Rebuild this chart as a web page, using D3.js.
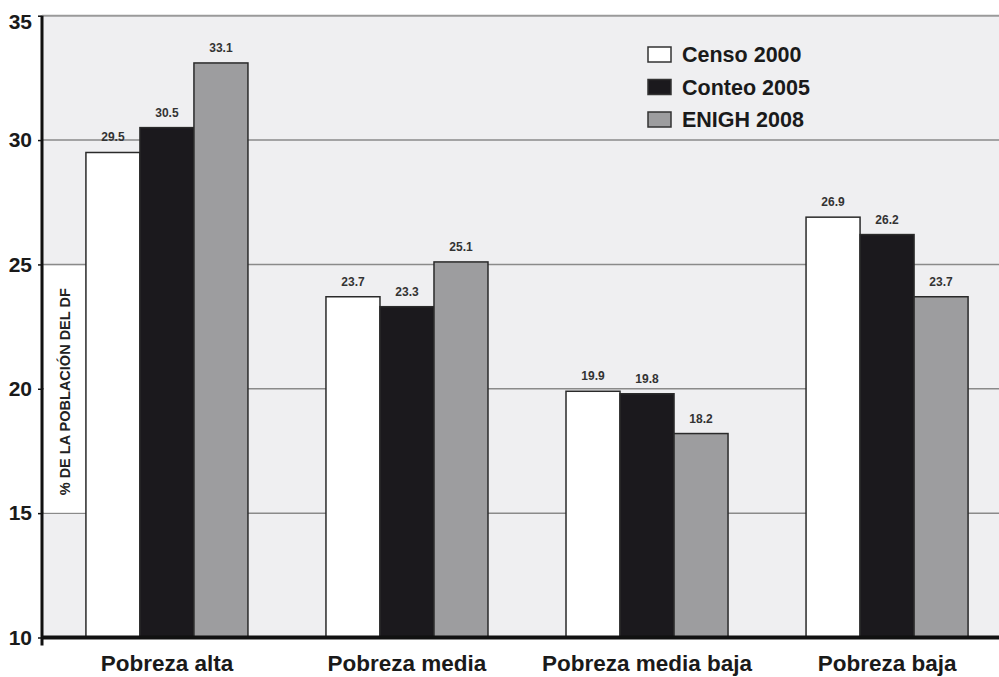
<!DOCTYPE html>
<html>
<head>
<meta charset="utf-8">
<script src="https://cdn.jsdelivr.net/npm/d3@7"></script>
<style>
  html, body { margin: 0; padding: 0; background: #fff; }
  svg { display: block; }
  text { font-family: "Liberation Sans", Arial, Helvetica, sans-serif; font-weight: bold; }
</style>
</head>
<body>
<svg id="chart" width="999" height="677"></svg>
<script>
// Poverty levels in the Distrito Federal, share of population (%)
const categories = ["Pobreza alta", "Pobreza media", "Pobreza media baja", "Pobreza baja"];
const seriesNames = ["Censo 2000", "Conteo 2005", "ENIGH 2008"];
const censo2000 = [29.5, 23.7, 19.9, 26.9];
const conteo2005 = [30.5, 23.3, 19.8, 26.2];
const enigh2008 = [33.1, 25.1, 18.2, 23.7];
const yTicks = [10, 15, 20, 25, 30, 35];
const yLabel = "% DE LA POBLACIÓN DEL DF";

const seriesValues = [censo2000, conteo2005, enigh2008];
const colors = ["#ffffff", "#1b191d", "#9d9d9f"];

const svg = d3.select("#chart");
const plotLeft = 42, plotRight = 999, plotTop = 15.7, plotBottom = 637.5;

const y = d3.scaleLinear().domain([10, 35]).range([plotBottom, plotTop]);
const x0 = d3.scaleBand().domain(categories).range([plotLeft, 1012])
  .paddingInner(0.325).paddingOuter(0.183);
const x1 = d3.scaleBand().domain(seriesNames).range([0, x0.bandwidth()]);

// plot background
svg.append("rect").attr("x", plotLeft).attr("y", plotTop)
  .attr("width", plotRight - plotLeft).attr("height", plotBottom - plotTop)
  .attr("fill", "#efeff1");

// top frame line
svg.append("line").attr("x1", plotLeft).attr("x2", plotRight)
  .attr("y1", plotTop).attr("y2", plotTop)
  .attr("stroke", "#9a9a9a").attr("stroke-width", 2);

// horizontal gridlines
svg.append("g").selectAll("line")
  .data(yTicks.filter(d => d > 10 && d < 35))
  .join("line")
  .attr("x1", plotLeft).attr("x2", plotRight)
  .attr("y1", d => y(d)).attr("y2", d => y(d))
  .attr("stroke", "#8a8a8a").attr("stroke-width", 1.5);

// white box behind the axis title
svg.append("rect").attr("x", plotLeft + 2).attr("y", y(25) + 1.5)
  .attr("width", 42).attr("height", y(15) - y(25) - 2)
  .attr("fill", "#ffffff");

svg.append("text")
  .attr("transform", `translate(70, ${(y(25) + y(15)) / 2 + 3}) rotate(-90)`)
  .attr("text-anchor", "middle")
  .attr("font-size", 14.5)
  .attr("fill", "#222")
  .text(yLabel);

// bars
const groups = svg.append("g").selectAll("g")
  .data(categories)
  .join("g")
  .attr("transform", d => `translate(${x0(d)},0)`);

groups.selectAll("rect")
  .data((c, i) => seriesNames.map((s, k) => ({ s, k, v: seriesValues[k][i] })))
  .join("rect")
  .attr("x", d => x1(d.s))
  .attr("y", d => y(d.v))
  .attr("width", x1.bandwidth())
  .attr("height", d => plotBottom - y(d.v))
  .attr("fill", d => colors[d.k])
  .attr("stroke", "#2a2a2a")
  .attr("stroke-width", 1.5);

groups.selectAll("text")
  .data((c, i) => seriesNames.map((s, k) => ({ s, k, v: seriesValues[k][i] })))
  .join("text")
  .attr("x", d => x1(d.s) + x1.bandwidth() / 2)
  .attr("y", d => y(d.v) - 11)
  .attr("text-anchor", "middle")
  .attr("font-size", 12)
  .attr("fill", "#333")
  .text(d => d.v.toFixed(1));

// y axis
const yAxis = d3.axisLeft(y).tickValues(yTicks).tickSize(4).tickPadding(6).tickFormat(d3.format("d"));
const yg = svg.append("g").attr("transform", `translate(${plotLeft},0)`).call(yAxis);
yg.select(".domain").remove();
yg.selectAll(".tick line").attr("stroke", "#111").attr("stroke-width", 1.5);
yg.selectAll(".tick text").attr("font-size", 21).attr("fill", "#1a1a1a")
  .attr("font-family", "Liberation Sans, Arial, sans-serif").attr("font-weight", "bold");
yg.selectAll(".tick").filter(d => d === 35).select("text").attr("dy", "0.62em");
svg.append("line").attr("x1", plotLeft).attr("x2", plotLeft)
  .attr("y1", plotTop).attr("y2", plotBottom + 8)
  .attr("stroke", "#111").attr("stroke-width", 3);

// baseline
svg.append("line").attr("x1", plotLeft).attr("x2", plotRight)
  .attr("y1", plotBottom).attr("y2", plotBottom)
  .attr("stroke", "#111").attr("stroke-width", 4);

// category labels
const xAxis = d3.axisBottom(x0).tickSize(0).tickPadding(18);
const xg = svg.append("g").attr("transform", `translate(0,${plotBottom})`).call(xAxis);
xg.select(".domain").remove();
xg.selectAll(".tick text").attr("font-size", 22.5).attr("fill", "#1a1a1a")
  .attr("font-family", "Liberation Sans, Arial, sans-serif").attr("font-weight", "bold");

// legend
const legend = svg.append("g").attr("transform", "translate(648,47)");
const li = legend.selectAll("g").data(seriesNames).join("g")
  .attr("transform", (d, i) => `translate(0,${i * 32.5})`);
li.append("rect").attr("width", 23).attr("height", 15)
  .attr("fill", (d, i) => colors[i]).attr("stroke", "#333").attr("stroke-width", 1.5);
li.append("text").attr("x", 34).attr("y", 15)
  .attr("font-size", 21.5).attr("fill", "#1a1a1a").text(d => d);
</script>
</body>
</html>
